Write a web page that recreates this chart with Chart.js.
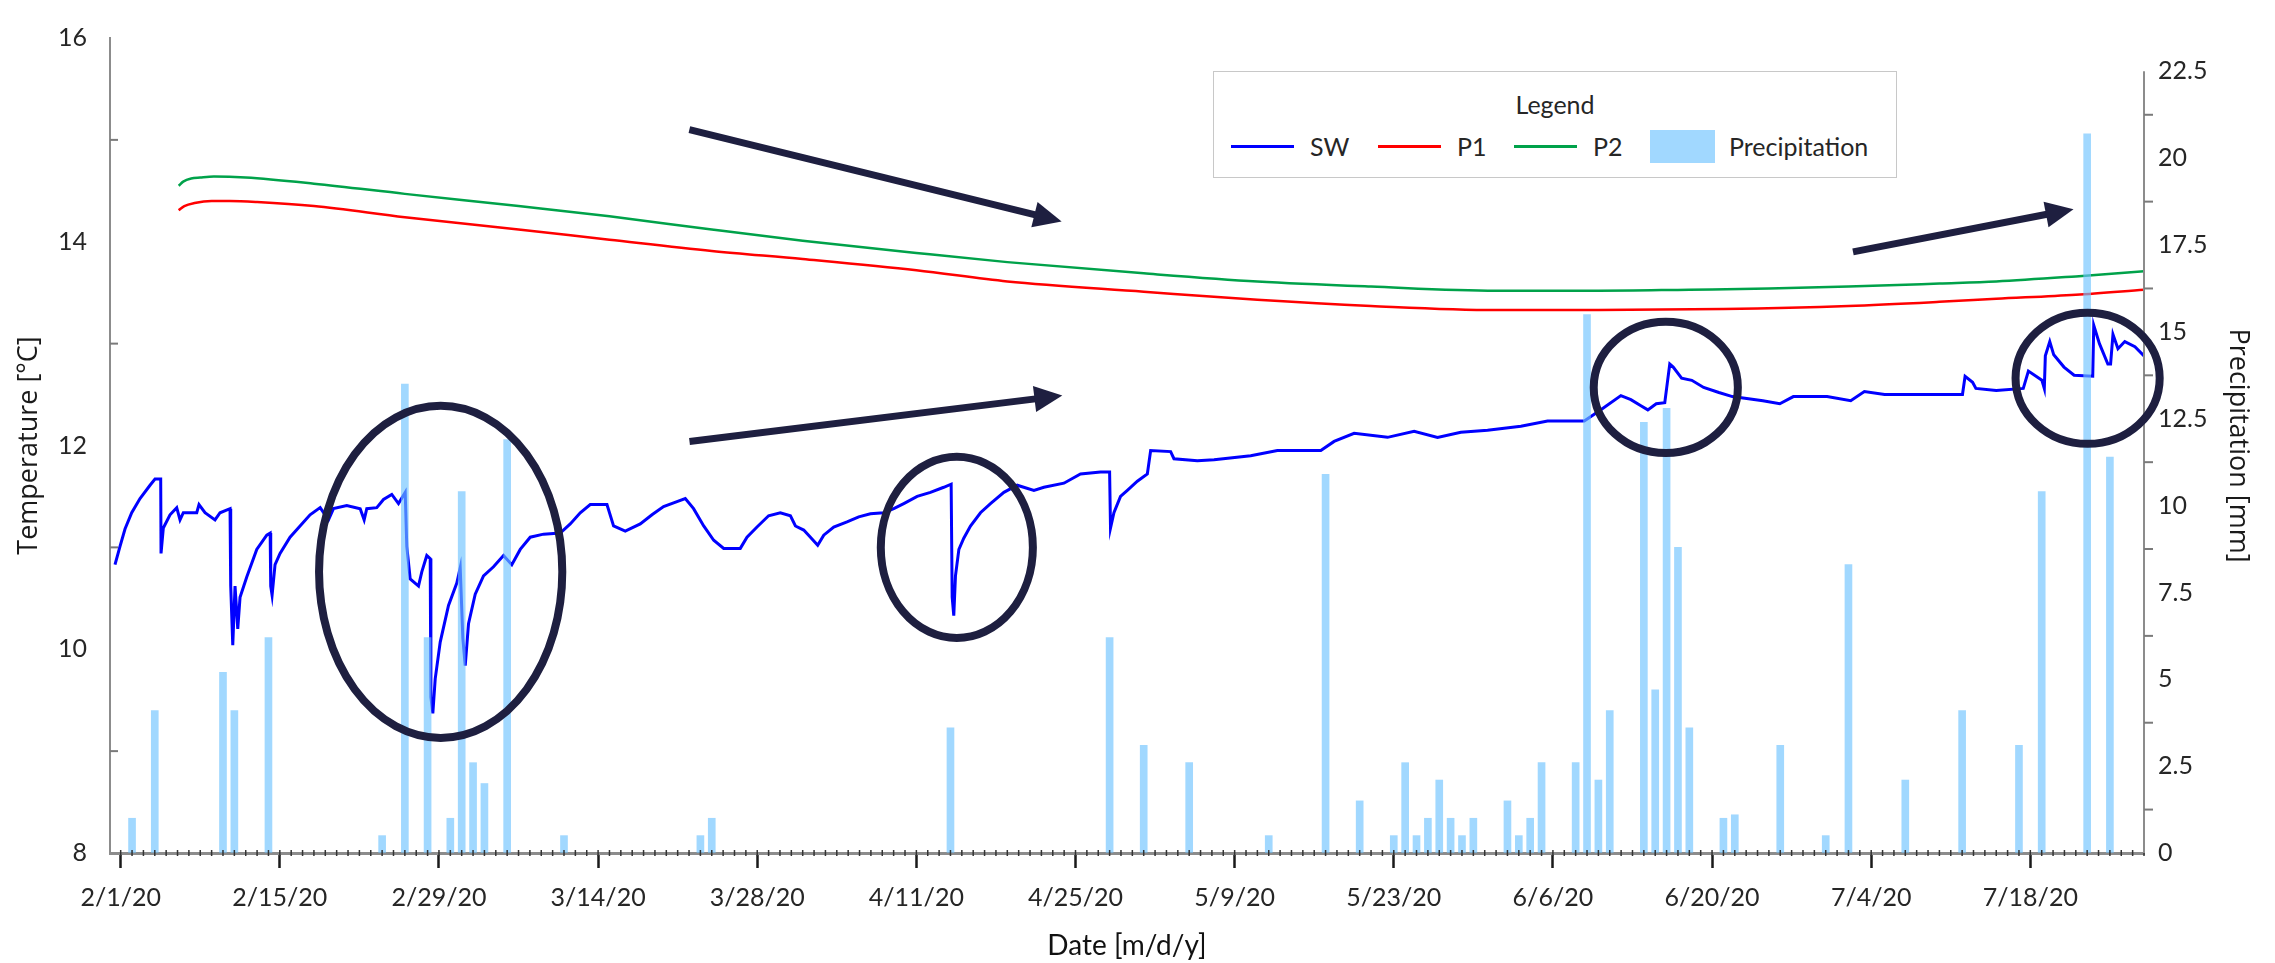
<!DOCTYPE html>
<html>
<head>
<meta charset="utf-8">
<script src="https://cdn.jsdelivr.net/npm/chart.js@4.4.1/dist/chart.umd.min.js"></script>
<style>
  body { margin: 0; background: #fff; }
  #wrap { position: relative; width: 2275px; height: 963px; }
  #legend { position: absolute; left: 1213px; top: 71px; width: 682px; height: 105px;
            border: 1px solid #c8c8c8; background: #fff;
            font-family: Lato, sans-serif; font-size: 25px; color: #262626; }
  #legend .title { position: absolute; left: 0; right: 0; top: 16px; line-height: 32px; text-align: center; }
  #legend .row { position: absolute; left: 17px; top: 57px; height: 34px; display: flex; align-items: center; }
  #legend .item { display: flex; align-items: center; }
  #legend .line { width: 63px; height: 3px; margin-right: 16px; }
  #legend .box { width: 65px; height: 33px; margin-right: 14px; }
</style>
</head>
<body>
<div id="wrap">
  <canvas id="tempChart"></canvas>
  <div id="legend"><div class="title">Legend</div><div class="row"></div></div>
</div>
<script>
// days counted from 2/1/20
var dateTicks = ['2/1/20', '2/15/20', '2/29/20', '3/14/20', '3/28/20', '4/11/20', '4/25/20',
                 '5/9/20', '5/23/20', '6/6/20', '6/20/20', '7/4/20', '7/18/20'];
var tempTicks = [8, 10, 12, 14, 16];
var rainTicks = [0, 2.5, 5, 7.5, 10, 12.5, 15, 17.5, 20, 22.5];

var swDays = [-0.5, -0.06, 0.38, 0.97, 1.7, 2.58, 3.02, 3.52, 3.55, 3.75, 4.34, 4.93, 5.22, 5.51, 6.69, 6.89, 7.42, 8.3, 8.74, 9.62,
  9.68, 9.86, 10.06, 10.3, 10.5, 11.09, 11.97, 12.85, 13.15, 13.2, 13.32, 13.58, 14.02, 14.9, 15.78, 16.66, 17.55, 18.28, 18.72, 19.89,
  21.07, 21.42, 21.65, 22.53, 23.12, 23.85, 24.44, 25.03, 25.17, 25.47, 26.2, 26.49, 26.93, 27.23, 27.29, 27.46, 27.67, 28.11, 28.84, 29.57,
  29.87, 30.1, 30.31, 30.6, 31.19, 31.92, 32.8, 33.68, 34.41, 35.15, 36.03, 37.2, 38.67, 39.55, 40.43, 41.31, 42.78, 43.36, 44.39, 45.71,
  46.74, 47.76, 48.94, 49.67, 50.4, 51.29, 52.17, 53.05, 54.51, 55.1, 55.98, 57.0, 58.03, 58.92, 59.36, 60.09, 60.68, 61.32, 61.85, 62.73,
  63.9, 64.93, 65.96, 67.13, 68.01, 68.89, 70.07, 71.24, 72.41, 73.06, 73.15, 73.29, 73.44, 73.74, 74.17, 74.76, 75.64, 76.52, 77.7, 78.87,
  80.34, 81.22, 82.98, 84.44, 86.2, 87.0, 87.08, 87.38, 87.96, 88.56, 89.44, 90.32, 90.61, 92.37, 92.66, 94.72, 96.19, 99.41, 101.76, 105.58,
  106.75, 108.51, 111.45, 113.79, 115.85, 117.9, 120.25, 123.18, 125.53, 128.76, 130.22, 131.98, 132.86, 133.74, 134.35, 135.09, 135.84, 136.07, 136.28, 136.58,
  137.32, 138.22, 139.26, 140.6, 141.79, 144.47, 145.96, 147.15, 150.12, 152.2, 153.4, 155.18, 162.03, 162.26, 162.92, 163.21, 165.0, 167.38, 167.83, 169.02,
  169.23, 169.32, 169.71, 170.06, 170.96, 171.85, 173.49, 173.58, 174.08, 174.82, 175.06, 175.27, 175.71, 176.31, 177.2, 178.0];
var swTemp = [10.83, 11.01, 11.18, 11.34, 11.48, 11.61, 11.67, 11.67, 10.94, 11.19, 11.32, 11.39, 11.27, 11.34, 11.34, 11.42, 11.34, 11.27, 11.34, 11.38,
  10.62, 10.04, 10.62, 10.2, 10.51, 10.71, 10.98, 11.12, 11.14, 10.62, 10.53, 10.83, 10.94, 11.1, 11.21, 11.32, 11.39, 11.27, 11.38, 11.41,
  11.38, 11.27, 11.38, 11.39, 11.47, 11.52, 11.43, 11.54, 11.01, 10.69, 10.62, 10.76, 10.92, 10.89, 9.53, 9.37, 9.71, 10.07, 10.43, 10.65,
  10.8, 10.11, 9.84, 10.25, 10.54, 10.72, 10.81, 10.92, 10.83, 10.98, 11.1, 11.13, 11.14, 11.23, 11.34, 11.42, 11.42, 11.21, 11.16, 11.23,
  11.32, 11.4, 11.45, 11.48, 11.38, 11.21, 11.07, 10.99, 10.99, 11.1, 11.2, 11.31, 11.34, 11.31, 11.21, 11.17, 11.1, 11.02, 11.12, 11.2,
  11.25, 11.3, 11.33, 11.34, 11.38, 11.43, 11.5, 11.54, 11.59, 11.62, 10.51, 10.33, 10.72, 10.98, 11.09, 11.21, 11.34, 11.43, 11.54, 11.61,
  11.56, 11.59, 11.63, 11.72, 11.74, 11.74, 11.19, 11.34, 11.5, 11.56, 11.65, 11.72, 11.95, 11.94, 11.87, 11.85, 11.86, 11.9, 11.95, 11.95,
  12.04, 12.12, 12.08, 12.14, 12.08, 12.13, 12.15, 12.19, 12.24, 12.24, 12.35, 12.49, 12.45, 12.39, 12.35, 12.41, 12.42, 12.62, 12.8, 12.77,
  12.66, 12.64, 12.57, 12.52, 12.48, 12.44, 12.41, 12.48, 12.48, 12.44, 12.53, 12.5, 12.5, 12.68, 12.62, 12.56, 12.54, 12.56, 12.73, 12.64,
  12.56, 12.88, 13.02, 12.89, 12.77, 12.69, 12.68, 13.18, 13.0, 12.8, 12.8, 13.09, 12.95, 13.02, 12.97, 12.88];

var p1Days = [5.1, 5.6, 6.5, 8, 9.6, 12, 17, 25, 35, 43, 52, 60, 70, 78, 90, 100, 110, 121, 130, 141, 152, 160, 165, 172, 178];
var p1Temp = [14.31, 14.35, 14.38, 14.40, 14.40, 14.39, 14.35, 14.24, 14.12, 14.02, 13.91, 13.83, 13.72, 13.61, 13.51, 13.43, 13.37, 13.33,
  13.33, 13.34, 13.37, 13.41, 13.44, 13.48, 13.53];

var p2Days = [5.1, 5.5, 6.2, 7, 8.2, 11, 17, 25, 35, 43, 52, 60, 70, 78, 90, 100, 110, 121, 130, 138, 145, 152, 160, 165, 172, 178];
var p2Temp = [14.55, 14.59, 14.62, 14.63, 14.64, 14.63, 14.57, 14.47, 14.35, 14.25, 14.12, 14.01, 13.89, 13.80, 13.69, 13.61, 13.56, 13.52,
  13.52, 13.53, 13.54, 13.56, 13.59, 13.61, 13.66, 13.71];

var rainDays = [1, 3, 9, 10, 13, 23, 25, 27, 29, 30, 31, 32, 34, 39, 51, 52, 73, 87, 90, 94, 101, 106, 109, 112, 113, 114, 115, 116, 117, 118,
  119, 122, 123, 124, 125, 128, 129, 130, 131, 134, 135, 136, 137, 138, 141, 142, 146, 150, 152, 157, 162, 167, 169, 173, 175];
var rainMm = [1.0, 4.1, 5.2, 4.1, 6.2, 0.5, 13.5, 6.2, 1.0, 10.4, 2.6, 2.0, 11.9, 0.5, 0.5, 1.0, 3.6, 6.2, 3.1, 2.6, 0.5, 10.9, 1.5, 0.5, 2.6, 0.5, 1.0, 2.1, 1.0, 0.5,
  1.0, 1.5, 0.5, 1.0, 2.6, 2.6, 15.5, 2.1, 4.1, 12.4, 4.7, 12.8, 8.8, 3.6, 1.0, 1.1, 3.1, 0.5, 8.3, 2.1, 4.1, 3.1, 10.4, 20.7, 11.4];

// hand-drawn marks: ellipses [day, degC, half width in days, half height in degC], arrows [day, degC -> day, degC]
var rings = [[28.15, 10.76, 10.7, 1.63], [73.56, 11.0, 6.69, 0.89], [135.93, 12.57, 6.34, 0.644], [173.04, 12.66, 6.34, 0.644]];
var arrows = [[50.03, 15.10, 82.78, 14.20], [50.04, 12.04, 82.84, 12.49], [152.4, 13.90, 171.8, 14.32]];

var dayMs = 86400000;
var firstDay = new Date(2020, 1, 1);
function toDay(label) {
    var p = label.split('/');
    return Math.round((new Date(2000 + Number(p[2]), p[0] - 1, Number(p[1])) - firstDay) / dayMs);
}
function pairs(xs, ys) {
    return xs.map(function(x, i) { return {x: x, y: ys[i]}; });
}

Chart.defaults.font.family = 'Lato, sans-serif';
Chart.defaults.font.size = 25;
Chart.defaults.color = '#262626';

var decorations = {
    id: 'decorations',
    afterDraw: function(chart) {
        var ctx = chart.ctx, x = chart.scales.x, y = chart.scales.y, y2 = chart.scales.y2;
        ctx.save();
        // daily minor ticks on the date axis
        ctx.strokeStyle = '#333';
        ctx.lineWidth = 1.5;
        for (var d = 0; d <= x.max; d++) {
            var px = x.getPixelForValue(d);
            ctx.beginPath(); ctx.moveTo(px, x.top - 3); ctx.lineTo(px, x.top + 3); ctx.stroke();
        }
        // minor ticks on temperature axis
        ctx.strokeStyle = '#7a7a7a';
        ctx.lineWidth = 2;
        for (var t = 9; t < 16; t += 2) {
            var py = y.getPixelForValue(t);
            ctx.beginPath(); ctx.moveTo(y.right, py); ctx.lineTo(y.right + 8, py); ctx.stroke();
        }
        // precipitation axis line and minor ticks
        var top = y2.getPixelForValue(rainTicks[rainTicks.length - 1]);
        ctx.strokeStyle = '#8c8c8c';
        ctx.beginPath(); ctx.moveTo(y2.left, top); ctx.lineTo(y2.left, y2.getPixelForValue(0)); ctx.stroke();
        ctx.strokeStyle = '#7a7a7a';
        for (var r = 1.25; r < 22.5; r += 2.5) {
            var ry = y2.getPixelForValue(r);
            ctx.beginPath(); ctx.moveTo(y2.left, ry); ctx.lineTo(y2.left + 9, ry); ctx.stroke();
        }
        // ellipses and arrows
        ctx.strokeStyle = '#1e1f40';
        ctx.fillStyle = '#1e1f40';
        ctx.lineWidth = 8;
        rings.forEach(function(e) {
            var cx = x.getPixelForValue(e[0]), cy = y.getPixelForValue(e[1]);
            var rx = x.getPixelForValue(e[0] + e[2]) - cx, rh = y.getPixelForValue(e[1] - e[3]) - cy;
            ctx.beginPath(); ctx.ellipse(cx, cy, rx, rh, 0, 0, Math.PI * 2); ctx.stroke();
        });
        ctx.lineWidth = 7;
        arrows.forEach(function(a) {
            var x1 = x.getPixelForValue(a[0]), y1 = y.getPixelForValue(a[1]);
            var x2 = x.getPixelForValue(a[2]), y2p = y.getPixelForValue(a[3]);
            var ang = Math.atan2(y2p - y1, x2 - x1), len = 28, half = 13;
            var bx = x2 - len * Math.cos(ang), by = y2p - len * Math.sin(ang);
            ctx.beginPath(); ctx.moveTo(x1, y1); ctx.lineTo(bx + Math.cos(ang), by + Math.sin(ang)); ctx.stroke();
            ctx.beginPath();
            ctx.moveTo(x2, y2p);
            ctx.lineTo(bx + half * Math.sin(ang), by - half * Math.cos(ang));
            ctx.lineTo(bx - half * Math.sin(ang), by + half * Math.cos(ang));
            ctx.closePath(); ctx.fill();
        });
        ctx.restore();
    }
};

var ctx = document.getElementById('tempChart').getContext('2d');
var myChart = new Chart(ctx, {
    type: 'line',
    data: {
        datasets: [{
            type: 'bar',
            label: 'Precipitation',
            data: pairs(rainDays, rainMm),
            yAxisID: 'y2',
            backgroundColor: 'rgba(110, 195, 255, 0.65)',
            barThickness: 7,
            order: 0
        }, {
            label: 'SW',
            data: pairs(swDays, swTemp),
            yAxisID: 'y',
            borderColor: '#0000ff',
            borderWidth: 3,
            pointRadius: 0,
            order: 1
        }, {
            label: 'P1',
            data: pairs(p1Days, p1Temp),
            yAxisID: 'y',
            borderColor: '#ff0000',
            borderWidth: 2.5,
            pointRadius: 0,
            cubicInterpolationMode: 'monotone',
            order: 1
        }, {
            label: 'P2',
            data: pairs(p2Days, p2Temp),
            yAxisID: 'y',
            borderColor: '#00a24a',
            borderWidth: 2.5,
            pointRadius: 0,
            cubicInterpolationMode: 'monotone',
            order: 1
        }]
    },
    options: {
        responsive: true,
        maintainAspectRatio: false,
        animation: false,
        devicePixelRatio: 1,
        layout: { padding: { top: 21, left: 0, right: 0, bottom: 0 } },
        plugins: { legend: { display: false }, tooltip: { enabled: false } },
        scales: {
            x: {
                type: 'linear',
                min: -0.94,
                max: 178,
                offset: false,
                grid: { offset: false, drawOnChartArea: false, tickLength: 15, tickColor: '#1a1a1a', tickWidth: 2.5 },
                border: { color: '#8c8c8c', width: 3 },
                afterBuildTicks: function(axis) {
                    axis.ticks = dateTicks.map(function(l) { return {value: toDay(l)}; });
                },
                ticks: {
                    autoSkip: false, maxRotation: 0, padding: 15,
                    callback: function(v, i) { return dateTicks[i]; }
                },
                title: { display: true, text: 'Date [m/d/y]', color: '#111',
                         font: { size: 28 }, padding: { top: 0, bottom: 0 } },
                afterFit: function(axis) { axis.height = 110; }
            },
            y: {
                type: 'linear',
                position: 'left',
                min: 8,
                max: 16,
                grid: { drawOnChartArea: false, drawTicks: false },
                border: { color: '#8c8c8c', width: 2 },
                afterBuildTicks: function(axis) {
                    axis.ticks = tempTicks.map(function(v) { return {value: v}; });
                },
                ticks: { padding: 23 },
                title: { display: true, text: 'Temperature [°C]', color: '#1a1a1a',
                         font: { family: '"Open Sans", sans-serif', size: 27 }, padding: { top: 13, bottom: 0 } },
                afterFit: function(axis) { axis.width = 110; }
            },
            y2: {
                type: 'linear',
                position: 'right',
                min: 0,
                max: 23.46,
                grid: { drawOnChartArea: false, drawTicks: false },
                border: { display: false },
                afterBuildTicks: function(axis) {
                    axis.ticks = rainTicks.map(function(v) { return {value: v}; });
                },
                ticks: { padding: 14, callback: function(v) { return String(v); } },
                title: { display: true, text: 'Precipitation [mm]', color: '#1a1a1a',
                         font: { family: '"Open Sans", sans-serif', size: 27 }, padding: { top: 21, bottom: 0 } },
                afterFit: function(axis) { axis.width = 131; }
            }
        }
    },
    plugins: [decorations]
});

// legend box built from the datasets
var row = document.querySelector('#legend .row');
var itemWidths = { 'SW': 147, 'P1': 136, 'P2': 136 };
['SW', 'P1', 'P2', 'Precipitation'].forEach(function(name) {
    var ds = myChart.data.datasets.find(function(d) { return d.label === name; });
    var item = document.createElement('div');
    item.className = 'item';
    if (itemWidths[name]) item.style.width = itemWidths[name] + 'px';
    var mark = document.createElement('span');
    mark.className = ds.type === 'bar' ? 'box' : 'line';
    mark.style.background = ds.type === 'bar' ? ds.backgroundColor : ds.borderColor;
    var text = document.createElement('span');
    text.textContent = name;
    item.appendChild(mark);
    item.appendChild(text);
    row.appendChild(item);
});
</script>
</body>
</html>
